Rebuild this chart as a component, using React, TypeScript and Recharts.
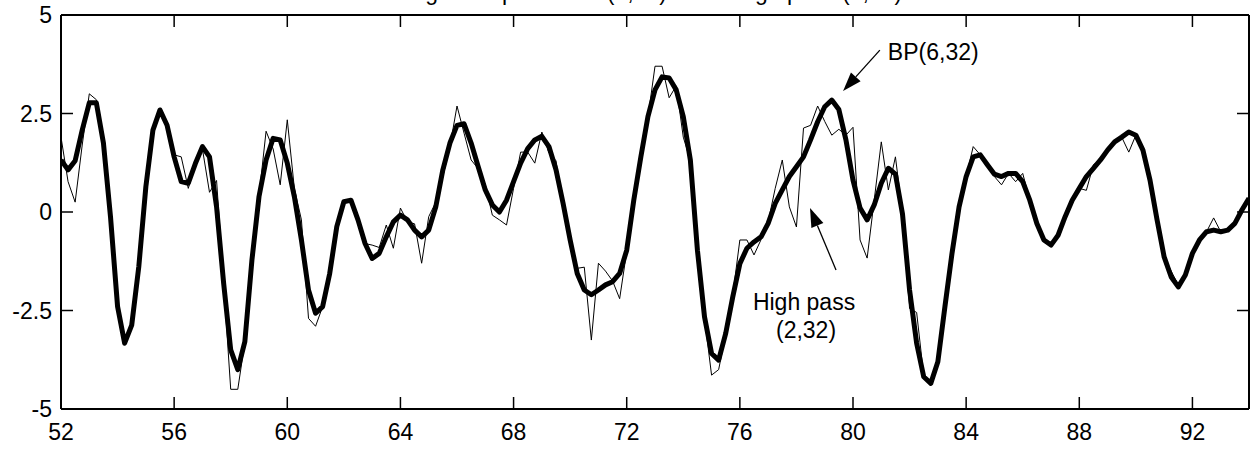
import React from "react";
import { LineChart, Line, XAxis, YAxis, ReferenceLine } from "recharts";

// quarterly observations, 1952Q1 .. 1994Q1
const startYear = 52;
const quartersPerYear = 4;

// Band pass BP(6,32) (thick line)
const bandPass = [
  1.32, 1.07, 1.3, 2.08,
  2.77, 2.77, 1.75, -0.12,
  -2.4, -3.33, -2.87, -1.39,
  0.64, 2.08, 2.59, 2.2,
  1.4, 0.77, 0.73, 1.23,
  1.66, 1.4, 0.13, -1.81,
  -3.5, -4.0, -3.29, -1.22,
  0.39, 1.32, 1.87, 1.83,
  1.24, 0.39, -0.71, -1.98,
  -2.57, -2.4, -1.56, -0.37,
  0.26, 0.3, -0.2, -0.8,
  -1.18, -1.05, -0.63, -0.25,
  -0.08, -0.2, -0.46, -0.63,
  -0.46, 0.13, 1.07, 1.75,
  2.2, 2.24, 1.75, 1.15,
  0.56, 0.18, 0.0, 0.3,
  0.77, 1.24, 1.61, 1.83,
  1.92, 1.66, 1.07, 0.22,
  -0.71, -1.56, -1.98, -2.1,
  -1.98, -1.85, -1.77, -1.56,
  -0.97, 0.3, 1.4, 2.42,
  3.1, 3.43, 3.4, 3.1,
  2.42, 1.32, -0.97, -2.66,
  -3.59, -3.76, -3.08, -2.15,
  -1.31, -0.92, -0.76, -0.63,
  -0.29, 0.22, 0.56, 0.9,
  1.15, 1.4, 1.83, 2.29,
  2.67, 2.84, 2.6, 1.83,
  0.81, 0.1, -0.2, 0.18,
  0.73, 1.11, 0.96, -0.05,
  -1.98, -3.33, -4.18, -4.35,
  -3.8, -2.4, -1.05, 0.13,
  0.9, 1.4, 1.45, 1.2,
  0.96, 0.9, 0.98, 0.98,
  0.77, 0.3, -0.29, -0.71,
  -0.84, -0.59, -0.12, 0.3,
  0.6, 0.9, 1.11, 1.32,
  1.57, 1.78, 1.9, 2.03,
  1.95, 1.57, 0.81, -0.2,
  -1.14, -1.65, -1.9, -1.6,
  -1.05, -0.71, -0.5, -0.46,
  -0.5, -0.46, -0.29, 0.05,
  0.35,
];

// High pass (2,32) (thin line)
const highPass = [
  1.9, 0.77, 0.25, 1.7,
  3.0, 2.85, 1.75, -0.1,
  -2.4, -3.35, -2.9, -1.4,
  0.6, 2.0, 2.5, 2.2,
  1.45, 1.4, 0.6, 1.2,
  1.6, 0.5, 0.8, -1.8,
  -4.5, -4.5, -3.3, -1.2,
  0.4, 2.05, 1.6, 0.69,
  2.34, 0.6, -0.2, -2.7,
  -2.9, -2.4, -1.6, -0.4,
  0.3, 0.25, -0.25, -0.8,
  -0.84, -0.9, -0.33, -0.92,
  0.1, -0.25, -0.3, -1.3,
  -0.12, 0.25, 0.9, 1.66,
  2.69, 2.0, 1.32, 1.1,
  0.7, -0.08, -0.2, -0.33,
  0.6, 1.52, 1.52, 1.24,
  2.03, 1.5, 1.3, 0.2,
  -0.7, -1.43, -1.4, -3.25,
  -1.3, -1.5, -1.75, -2.2,
  -1.0, 0.5, 1.4, 2.4,
  3.7, 3.7, 2.9, 3.2,
  1.9, 1.3, -1.0, -2.7,
  -4.14, -4.0, -3.1, -2.1,
  -0.71, -0.71, -1.09, -0.7,
  -0.25, 0.6, 1.32, 0.13,
  -0.38, 2.13, 2.2, 2.69,
  2.3, 1.95, 2.1, 1.95,
  2.15, -0.71, -1.17, 0.3,
  1.78, 0.56, 1.4, -0.05,
  -2.45, -2.55, -4.15, -4.35,
  -3.8, -2.4, -1.05, 0.13,
  0.9, 1.66, 1.45, 1.2,
  0.9, 0.69, 0.98, 0.77,
  0.98, 0.3, -0.29, -0.71,
  -0.84, -0.59, -0.12, 0.3,
  0.6, 0.55, 1.2, 1.32,
  1.57, 1.78, 1.9, 1.52,
  1.95, 1.57, 0.81, -0.2,
  -1.14, -1.5, -1.85, -1.6,
  -1.05, -0.71, -0.5, -0.15,
  -0.5, -0.46, -0.29, 0.05,
  0.35,
];

const xTicks = [52, 56, 60, 64, 68, 72, 76, 80, 84, 88, 92];
const yTicks = [-5, -2.5, 0, 2.5, 5];
const xDomain = [52, 94];
const yDomain = [-5, 5];

const titleText = "Baxter-King band pass filter (6,32) and a high pass (2,32)";
const bpLabel = "BP(6,32)";
const hpLabel = ["High pass", "(2,32)"];
const bpArrow = [{ t: 80.95, v: 4.11 }, { t: 79.65, v: 3.07 }];
const hpArrow = [{ t: 79.4, v: -1.47 }, { t: 78.48, v: 0.1 }];

const data = bandPass.map((bp, i) => ({
  t: startYear + i / quartersPerYear,
  bp,
  hp: highPass[i],
}));

const FONT = "'Liberation Sans', Arial, Helvetica, sans-serif";
const FS = 23;

const BottomTick = (props: any) => {
  const { x, y, payload } = props;
  return (
    <g>
      <line x1={x} x2={x} y1={y} y2={y - 12} stroke="#000" strokeWidth={1.5} />
      <text x={x} y={y + 31} textAnchor="middle" fontFamily={FONT} fontSize={FS} fill="#000">
        {payload.value}
      </text>
    </g>
  );
};
const TopTick = (props: any) => {
  const { x, y } = props;
  return <line x1={x} x2={x} y1={y} y2={y + 12} stroke="#000" strokeWidth={1.5} />;
};
const LeftTick = (props: any) => {
  const { x, y, payload } = props;
  return (
    <g>
      <line x1={x} x2={x + 12} y1={y} y2={y} stroke="#000" strokeWidth={1.5} />
      <text x={x - 9} y={y + 8} textAnchor="end" fontFamily={FONT} fontSize={FS} fill="#000">
        {String(payload.value)}
      </text>
    </g>
  );
};
const RightTick = (props: any) => {
  const { x, y } = props;
  return <line x1={x} x2={x - 12} y1={y} y2={y} stroke="#000" strokeWidth={1.5} />;
};

const arrowHead = (x1: number, y1: number, x2: number, y2: number) => {
  const dx = x2 - x1;
  const dy = y2 - y1;
  const len = Math.sqrt(dx * dx + dy * dy) || 1;
  const ux = dx / len;
  const uy = dy / len;
  const L = 19;
  const W = 6.5;
  const bx = x2 - ux * L;
  const by = y2 - uy * L;
  return {
    line: { x1, y1, x2: bx, y2: by },
    pts: `${x2},${y2} ${bx - uy * W},${by + ux * W} ${bx + uy * W},${by - ux * W}`,
  };
};

const BPShape = (props: any) => {
  const { x1, y1, x2, y2 } = props;
  const a = arrowHead(x1, y1, x2, y2);
  return (
    <g>
      <line {...a.line} stroke="#000" strokeWidth={1.3} />
      <polygon points={a.pts} fill="#000" />
      <text x={x1 + 8} y={y1 + 10} fontFamily={FONT} fontSize={FS} fill="#000">
        {bpLabel}
      </text>
    </g>
  );
};

const HPShape = (props: any) => {
  const { x1, y1, x2, y2 } = props;
  const a = arrowHead(x1, y1, x2, y2);
  return (
    <g>
      <line {...a.line} stroke="#000" strokeWidth={1.3} />
      <polygon points={a.pts} fill="#000" />
      <text x={x1 - 32} y={y1 + 40} textAnchor="middle" fontFamily={FONT} fontSize={FS} fill="#000">
        {hpLabel[0]}
      </text>
      <text x={x1 - 30} y={y1 + 68} textAnchor="middle" fontFamily={FONT} fontSize={FS} fill="#000">
        {hpLabel[1]}
      </text>
    </g>
  );
};

export default function App() {
  return (
    <div style={{ position: "absolute", left: 0, top: 0, width: 1250, height: 451, background: "#fff" }}>
      <LineChart
        width={1250}
        height={451}
        data={data}
        margin={{ top: 14, right: 0, bottom: 0, left: 0 }}
      >
        <XAxis
          dataKey="t"
          type="number"
          domain={xDomain}
          ticks={xTicks}
          allowDataOverflow
          height={42}
          tickSize={0}
          tickMargin={0}
          tickLine={false}
          tick={<BottomTick />}
          axisLine={{ stroke: "#000", strokeWidth: 2 }}
          interval={0}
        />
        <XAxis
          xAxisId="top"
          orientation="top"
          dataKey="t"
          type="number"
          domain={xDomain}
          ticks={xTicks}
          allowDataOverflow
          height={1}
          tickSize={0}
          tickMargin={0}
          tickLine={false}
          tick={<TopTick />}
          axisLine={{ stroke: "#000", strokeWidth: 2 }}
          interval={0}
        />
        <YAxis
          type="number"
          domain={yDomain}
          ticks={yTicks}
          allowDataOverflow
          width={61}
          tickSize={0}
          tickMargin={0}
          tickLine={false}
          tick={<LeftTick />}
          axisLine={{ stroke: "#000", strokeWidth: 2 }}
          interval={0}
        />
        <YAxis
          yAxisId="right"
          orientation="right"
          type="number"
          domain={yDomain}
          ticks={yTicks}
          allowDataOverflow
          width={1}
          tickSize={0}
          tickMargin={0}
          tickLine={false}
          tick={<RightTick />}
          axisLine={{ stroke: "#000", strokeWidth: 2 }}
          interval={0}
        />
        <Line
          type="linear"
          dataKey="hp"
          stroke="#000"
          strokeWidth={1}
          dot={false}
          isAnimationActive={false}
        />
        <Line
          type="linear"
          dataKey="bp"
          stroke="#000"
          strokeWidth={5}
          strokeLinejoin="round"
          dot={false}
          isAnimationActive={false}
        />
        <ReferenceLine
          segment={[{ x: bpArrow[0].t, y: bpArrow[0].v }, { x: bpArrow[1].t, y: bpArrow[1].v }]}
          shape={BPShape}
          ifOverflow="visible"
        />
        <ReferenceLine
          segment={[{ x: hpArrow[0].t, y: hpArrow[0].v }, { x: hpArrow[1].t, y: hpArrow[1].v }]}
          shape={HPShape}
          ifOverflow="visible"
        />
      </LineChart>
      <svg
        width={1250}
        height={14}
        style={{ position: "absolute", left: 0, top: 0, overflow: "hidden" }}
      >
        <text x={610} y={0} textAnchor="middle" fontFamily={FONT} fontSize={FS} fill="#000">
          {titleText}
        </text>
      </svg>
    </div>
  );
}
